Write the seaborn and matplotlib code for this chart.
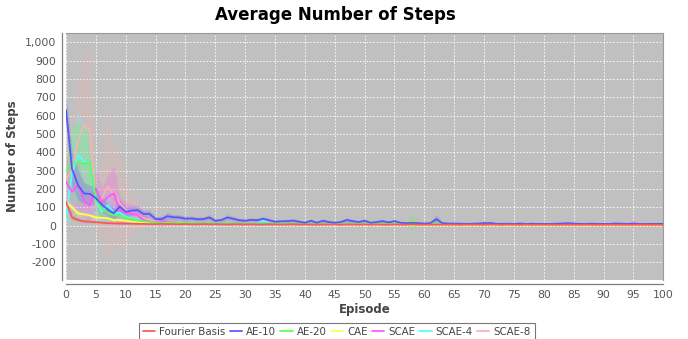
import numpy as np
import pandas as pd
import matplotlib
matplotlib.use("Agg")
import matplotlib.pyplot as plt
import seaborn as sns
from matplotlib.ticker import FuncFormatter, MultipleLocator

# Dados (média e meia-largura da faixa por episódio)
episodes = list(range(101))
methods = ["Fourier Basis", "AE-10", "AE-20", "CAE", "SCAE", "SCAE-4", "SCAE-8"]
colors = ["#ff5555", "#5555ff", "#55ff55", "#ffff55", "#ff55ff", "#55ffff", "#ffafaf"]

fourier_mean = [130, 45, 32, 24, 22, 19, 17, 14, 13, 12, 12, 11, 10, 10, 9, 9, 10, 9, 9, 8,
                9, 8, 8, 9, 8, 8, 8, 7, 8, 8, 7, 8, 7, 7, 8, 7, 7, 7, 8, 7,
                7, 7, 6, 7, 7, 7, 6, 7, 7, 6, 7, 6, 7, 6, 6, 7, 6, 6, 7, 6,
                6, 6, 6, 6, 6, 6, 5, 6, 6, 6, 5, 6, 6, 5, 6, 6, 5, 6, 5, 6,
                5, 6, 5, 5, 6, 5, 5, 6, 5, 5, 5, 6, 5, 5, 5, 5, 6, 5, 5, 5, 5]
fourier_sd = [30, 15, 10, 8, 7, 6, 5, 5, 4, 4, 4, 4, 3, 3, 3, 3, 3, 3, 3, 3,
              3, 3, 3, 3, 3, 3, 3, 3, 3, 3, 3, 3, 3, 3, 3, 3, 3, 3, 3, 3,
              3, 3, 3, 3, 3, 3, 3, 3, 3, 3, 3, 3, 3, 3, 3, 3, 3, 3, 3, 3,
              3, 3, 3, 3, 3, 3, 3, 3, 3, 3, 3, 3, 3, 3, 3, 3, 3, 3, 3, 3,
              3, 3, 3, 3, 3, 3, 3, 3, 3, 3, 3, 3, 3, 3, 3, 3, 3, 3, 3, 3, 3]

ae10_mean = [631, 310, 222, 176, 173, 150, 115, 88, 68, 104, 76, 82, 85, 64, 64, 36, 36, 52, 46, 45,
             38, 40, 35, 36, 45, 27, 31, 45, 38, 30, 27, 32, 30, 38, 30, 22, 24, 25, 28, 22,
             16, 27, 16, 27, 20, 16, 20, 31, 25, 20, 27, 16, 20, 25, 18, 25, 16, 14, 15, 14,
             12, 14, 36, 14, 12, 12, 11, 10, 11, 12, 14, 15, 11, 10, 11, 10, 12, 10, 11, 10,
             10, 10, 11, 12, 14, 12, 10, 10, 11, 10, 10, 10, 12, 11, 10, 11, 10, 9, 10, 10, 10]
ae10_sd = [80, 100, 80, 60, 50, 40, 40, 35, 30, 40, 30, 25, 25, 20, 20, 15, 15, 20, 15, 15,
           15, 12, 12, 12, 15, 10, 10, 15, 12, 10, 10, 10, 10, 12, 10, 8, 8, 8, 10, 8,
           8, 10, 8, 10, 8, 8, 8, 12, 10, 8, 12, 8, 8, 10, 8, 10, 8, 6, 6, 6,
           5, 6, 25, 6, 5, 5, 5, 5, 5, 5, 5, 6, 5, 5, 5, 5, 5, 5, 5, 5,
           5, 5, 5, 5, 5, 5, 5, 5, 5, 5, 5, 5, 5, 5, 5, 5, 5, 5, 5, 5, 5]

ae20_mean = [295, 340, 340, 340, 345, 140, 95, 67, 58, 55, 42, 35, 27, 24, 20, 18, 17, 16, 16, 15,
             15, 14, 14, 13, 14, 13, 13, 12, 13, 12, 12, 12, 11, 12, 11, 11, 12, 11, 11, 10,
             11, 10, 11, 10, 10, 11, 10, 10, 11, 10, 10, 10, 11, 10, 10, 11, 10, 12, 22, 12,
             10, 10, 11, 10, 10, 9, 10, 10, 9, 10, 10, 9, 10, 10, 9, 10, 9, 10, 10, 9,
             10, 9, 10, 9, 10, 10, 9, 10, 9, 10, 9, 10, 9, 10, 9, 10, 10, 9, 10, 11, 12]
ae20_sd = [100, 200, 220, 200, 150, 100, 60, 40, 30, 25, 20, 15, 12, 10, 8, 8, 7, 7, 6, 6,
           6, 6, 5, 5, 5, 5, 5, 5, 5, 5, 5, 5, 5, 5, 5, 5, 5, 5, 5, 5,
           5, 5, 5, 5, 5, 5, 5, 5, 5, 5, 5, 5, 5, 5, 5, 5, 5, 8, 45, 8,
           5, 5, 5, 5, 5, 5, 5, 5, 5, 5, 5, 5, 5, 5, 5, 5, 5, 5, 5, 5,
           5, 5, 5, 5, 5, 5, 5, 5, 5, 5, 5, 5, 5, 5, 5, 5, 5, 5, 5, 5, 5]

cae_mean = [127, 100, 67, 62, 56, 45, 43, 40, 31, 31, 27, 22, 22, 16, 15, 14, 14, 13, 13, 12,
            12, 11, 11, 11, 10, 10, 10, 10, 9, 9, 9, 9, 9, 8, 9, 8, 8, 8, 8, 8,
            8, 8, 7, 8, 7, 7, 8, 7, 7, 7, 7, 7, 6, 7, 7, 6, 7, 6, 6, 7,
            6, 6, 6, 6, 6, 6, 6, 5, 6, 6, 6, 5, 6, 6, 5, 6, 6, 5, 6, 6,
            5, 6, 6, 5, 6, 5, 6, 6, 5, 6, 5, 6, 5, 6, 6, 5, 6, 5, 6, 5, 6]
cae_sd = [25, 20, 15, 12, 10, 9, 8, 8, 7, 7, 6, 5, 5, 4, 4, 4, 4, 3, 3, 3,
          3, 3, 3, 3, 3, 3, 3, 3, 3, 3, 3, 3, 3, 3, 3, 3, 3, 3, 3, 3,
          3, 3, 3, 3, 3, 3, 3, 3, 3, 3, 3, 3, 3, 3, 3, 3, 3, 3, 3, 3,
          3, 3, 3, 3, 3, 3, 3, 3, 3, 3, 3, 3, 3, 3, 3, 3, 3, 3, 3, 3,
          3, 3, 3, 3, 3, 3, 3, 3, 3, 3, 3, 3, 3, 3, 3, 3, 3, 3, 3, 3, 3]

scae_mean = [240, 185, 222, 140, 109, 204, 122, 158, 176, 85, 71, 67, 58, 31, 22, 20, 25, 18, 17, 15,
             15, 14, 14, 13, 14, 13, 12, 12, 13, 12, 12, 11, 12, 11, 11, 11, 10, 11, 10, 10,
             11, 10, 10, 11, 10, 10, 10, 11, 10, 10, 12, 10, 10, 10, 11, 10, 10, 10, 10, 10,
             10, 9, 10, 10, 9, 10, 10, 9, 10, 10, 9, 10, 9, 10, 10, 9, 10, 9, 10, 9,
             10, 9, 10, 9, 10, 9, 10, 9, 10, 10, 9, 10, 9, 10, 9, 14, 10, 9, 10, 9, 10]
scae_sd = [150, 120, 130, 100, 80, 110, 90, 120, 150, 80, 60, 50, 40, 25, 20, 15, 30, 12, 10, 8,
           8, 8, 7, 7, 7, 7, 6, 6, 6, 6, 6, 6, 6, 6, 6, 5, 5, 5, 5, 5,
           5, 5, 5, 5, 5, 5, 5, 5, 5, 5, 5, 5, 5, 5, 5, 5, 5, 5, 5, 5,
           5, 5, 5, 5, 5, 5, 5, 5, 5, 5, 5, 5, 5, 5, 5, 5, 5, 5, 5, 5,
           5, 5, 5, 5, 5, 5, 5, 5, 5, 5, 5, 5, 5, 5, 5, 5, 5, 5, 5, 5, 5]

scae4_mean = [50, 285, 385, 350, 343, 131, 76, 113, 67, 71, 49, 40, 31, 22, 20, 18, 17, 16, 15, 15,
              14, 14, 13, 13, 13, 12, 12, 12, 12, 11, 11, 12, 11, 28, 12, 11, 11, 10, 11, 10,
              10, 10, 11, 10, 10, 10, 10, 10, 10, 10, 10, 9, 10, 10, 9, 10, 10, 9, 10, 10,
              9, 10, 9, 10, 9, 10, 9, 9, 10, 9, 9, 10, 9, 9, 10, 9, 9, 10, 9, 9,
              10, 9, 9, 10, 9, 9, 10, 9, 9, 9, 10, 9, 9, 9, 10, 9, 9, 10, 9, 9, 9]
scae4_sd = [60, 220, 250, 200, 180, 120, 60, 80, 40, 40, 30, 20, 15, 12, 10, 8, 8, 7, 6, 6,
            6, 6, 5, 5, 5, 5, 5, 5, 5, 5, 5, 5, 5, 30, 6, 5, 5, 5, 5, 5,
            5, 5, 5, 5, 5, 5, 5, 5, 5, 5, 5, 5, 5, 5, 5, 5, 5, 5, 5, 5,
            5, 5, 5, 5, 5, 5, 5, 5, 5, 5, 5, 5, 5, 5, 5, 5, 5, 5, 5, 5,
            5, 5, 5, 5, 5, 5, 5, 5, 5, 5, 5, 5, 5, 5, 5, 5, 5, 5, 5, 5, 5]

scae8_mean = [250, 304, 467, 549, 525, 104, 150, 213, 170, 122, 85, 70, 60, 40, 30, 25, 20, 18, 16, 15,
              14, 14, 13, 13, 12, 12, 12, 11, 12, 11, 11, 11, 10, 11, 10, 10, 11, 10, 10, 10,
              10, 10, 9, 10, 10, 9, 10, 10, 9, 10, 10, 9, 10, 9, 10, 10, 9, 10, 9, 10,
              9, 10, 9, 9, 10, 9, 9, 10, 9, 9, 10, 9, 9, 9, 10, 9, 9, 12, 9, 9,
              9, 10, 9, 9, 9, 10, 9, 9, 9, 10, 9, 9, 9, 10, 9, 9, 9, 9, 10, 9, 9]
scae8_sd = [150, 250, 300, 380, 450, 150, 200, 420, 250, 250, 200, 100, 80, 50, 30, 25, 20, 15, 12, 10,
            8, 8, 8, 7, 7, 7, 6, 6, 6, 6, 6, 6, 5, 5, 5, 5, 5, 5, 5, 5,
            5, 5, 5, 5, 5, 5, 5, 5, 5, 5, 5, 5, 5, 5, 5, 5, 5, 5, 5, 5,
            5, 5, 5, 5, 5, 5, 5, 5, 5, 5, 5, 5, 5, 5, 5, 5, 5, 5, 5, 5,
            5, 5, 5, 5, 5, 5, 5, 5, 5, 5, 5, 5, 5, 5, 5, 5, 5, 5, 5, 5, 5]

means = [fourier_mean, ae10_mean, ae20_mean, cae_mean, scae_mean, scae4_mean, scae8_mean]
sds = [fourier_sd, ae10_sd, ae20_sd, cae_sd, scae_sd, scae4_sd, scae8_sd]

# Tabela longa para o seaborn
rows = []
for name, m in zip(methods, means):
    for ep, v in zip(episodes, m):
        rows.append((ep, v, name))
df = pd.DataFrame(rows, columns=["Episode", "Steps", "Method"])

sns.set_style("white")
plt.rcParams["font.family"] = ["DejaVu Sans"]

fig, ax = plt.subplots(figsize=(6.88, 3.39), dpi=100)
fig.subplots_adjust(left=0.096, right=0.964, top=0.903, bottom=0.174)
ax.set_facecolor("#c0c0c0")

# Faixas (média ± desvio); a primeira série fica por cima, como no original
n = len(methods)
for i, (name, c, m, s) in enumerate(zip(methods, colors, means, sds)):
    m = np.array(m, dtype=float)
    s = np.array(s, dtype=float)
    ax.fill_between(episodes, m - s, m + s, color=c, alpha=0.22, lw=0, zorder=2 + (n - i) * 0.01)

sns.lineplot(data=df, x="Episode", y="Steps", hue="Method", hue_order=methods,
             palette=dict(zip(methods, colors)), linewidth=1.25, ax=ax)
for i, line in enumerate(ax.lines[:n]):
    line.set_zorder(3 + (n - i) * 0.01)

ax.set_xlim(0, 100)
ax.set_ylim(-296, 1051)
ax.xaxis.set_major_locator(MultipleLocator(5))
ax.yaxis.set_major_locator(MultipleLocator(100))
ax.yaxis.set_major_formatter(FuncFormatter(lambda v, p: f"{int(v):,}"))
ax.grid(True, color="white", linestyle=(0, (2, 2)), linewidth=0.6, zorder=1)
ax.set_axisbelow(True)

for side in ["top", "right"]:
    ax.spines[side].set_color("#9a9a9a")
    ax.spines[side].set_linewidth(0.8)
for side in ["left", "bottom"]:
    ax.spines[side].set_position(("outward", 3))
    ax.spines[side].set_color("#808080")
    ax.spines[side].set_linewidth(0.9)

ax.tick_params(axis="both", labelsize=7.8, labelcolor="#555555", color="#808080",
               length=2, width=0.6, direction="out", pad=2)
ax.set_xlabel("Episode", fontsize=8.5, fontweight="bold", color="#444444", labelpad=2)
ax.set_ylabel("Number of Steps", fontsize=8.5, fontweight="bold", color="#444444", labelpad=4)

fig.text(0.488, 0.956, "Average Number of Steps", ha="center", va="center",
         fontsize=12, fontweight="bold", color="black")

handles, labels = ax.get_legend_handles_labels()
ax.get_legend().remove()
leg = fig.legend(handles, labels, loc="upper center", bbox_to_anchor=(0.4895, 0.048), ncol=7,
                 fontsize=7.4, frameon=True, fancybox=False, handlelength=1.2,
                 handletextpad=0.4, columnspacing=0.4, borderpad=0.4, borderaxespad=0)
leg.get_frame().set_edgecolor("#555555")
leg.get_frame().set_linewidth(0.8)
for t in leg.get_texts():
    t.set_color("#444444")

plt.savefig("out.png", dpi=100)
